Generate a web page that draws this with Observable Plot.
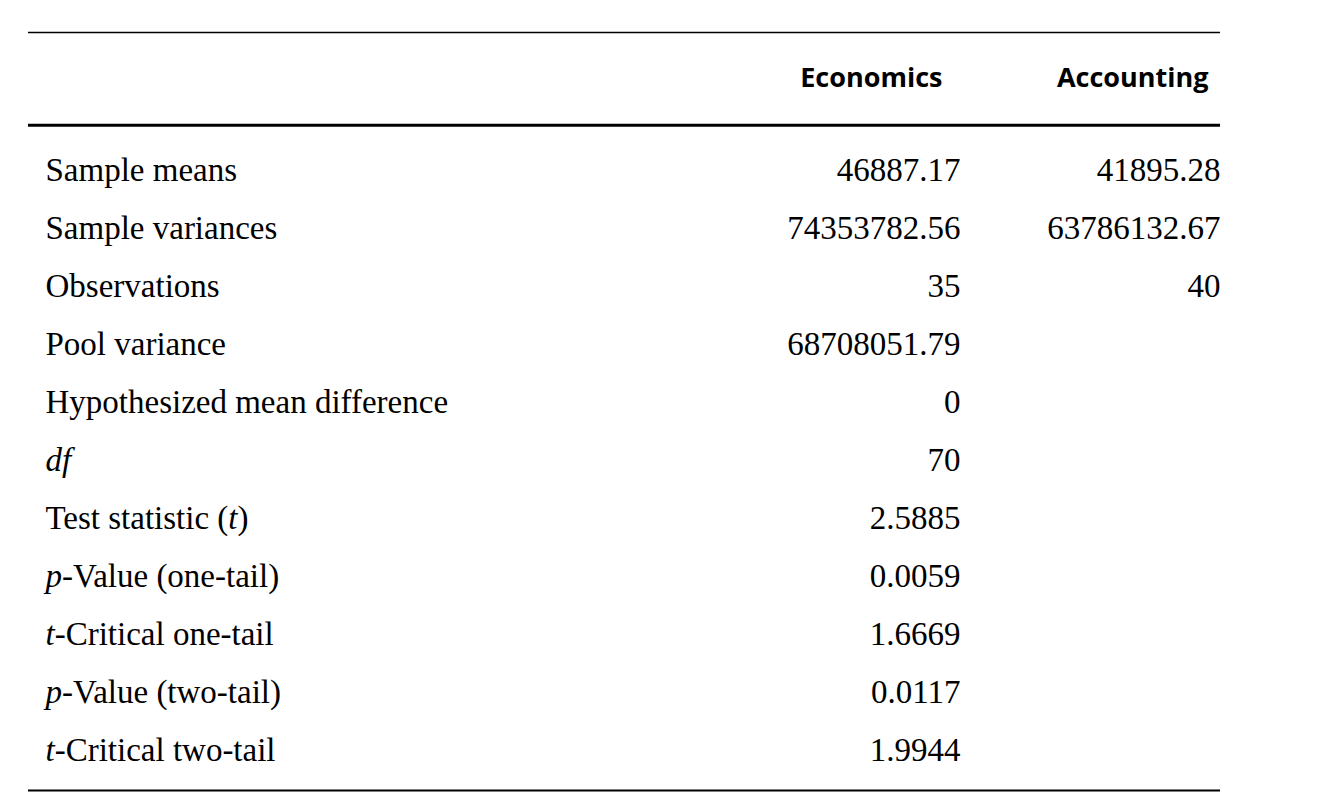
<!DOCTYPE html>
<html><head><meta charset="utf-8">
<script src="https://cdn.jsdelivr.net/npm/d3@7"></script>
<script src="https://cdn.jsdelivr.net/npm/@observablehq/plot@0.6"></script>
<style>body{margin:0;background:#fff}</style>
</head><body><div id="chart"></div>
<script>
const columns = ["Economics", "Accounting"];
const labels = ["Sample means","Sample variances","Observations","Pool variance","Hypothesized mean difference","*df*","Test statistic (*t*)","*p*-Value (one-tail)","*t*-Critical one-tail","*p*-Value (two-tail)","*t*-Critical two-tail"];
const economics = ["46887.17","74353782.56","35","68708051.79","0","70","2.5885","0.0059","1.6669","0.0117","1.9944"];
const accounting = ["41895.28","63786132.67","40","","","","","","","",""];

const rows = labels.map((l, i) => ({i, label: l, econ: economics[i], acc: accounting[i]}));
const rules = [{y: -2.38, w: 1.5}, {y: -0.78, w: 3}, {y: 10.69, w: 2}];

const chart = Plot.plot({
  width: 1340, height: 808, margin: 0,
  x: {domain: [0, 1340], axis: null},
  y: {domain: [-2.931, 11.0], reverse: true, axis: null},
  marks: [
    Plot.ruleY(rules, {y: "y", x1: 28, x2: 1220, strokeWidth: "w", stroke: "#000"}),
    Plot.text(columns, {x: [942, 1208], y: [-1.59, -1.59], text: d => d, textAnchor: "end",
      fontFamily: "Open Sans", fontWeight: "bold", fontSize: 27, fill: "#000"}),
    Plot.text(rows, {x: 45, y: "i", text: "label", textAnchor: "start",
      fontFamily: "Liberation Serif", fontSize: 33, fill: "#000", className: "lbl"}),
    Plot.text(rows, {x: 960, y: "i", text: "econ", textAnchor: "end",
      fontFamily: "Liberation Serif", fontSize: 33, fill: "#000"}),
    Plot.text(rows, {x: 1220, y: "i", text: "acc", textAnchor: "end",
      fontFamily: "Liberation Serif", fontSize: 33, fill: "#000"})
  ]
});
document.getElementById("chart").appendChild(chart);
d3.select(chart).selectAll(".lbl text").each(function() {
  const s = this.textContent;
  if (!s.includes("*")) return;
  const t = d3.select(this); t.text("");
  s.split("*").forEach((part, k) => {
    if (!part) return;
    t.append("tspan").attr("font-style", k % 2 ? "italic" : null).text(part);
  });
});
</script></body></html>
